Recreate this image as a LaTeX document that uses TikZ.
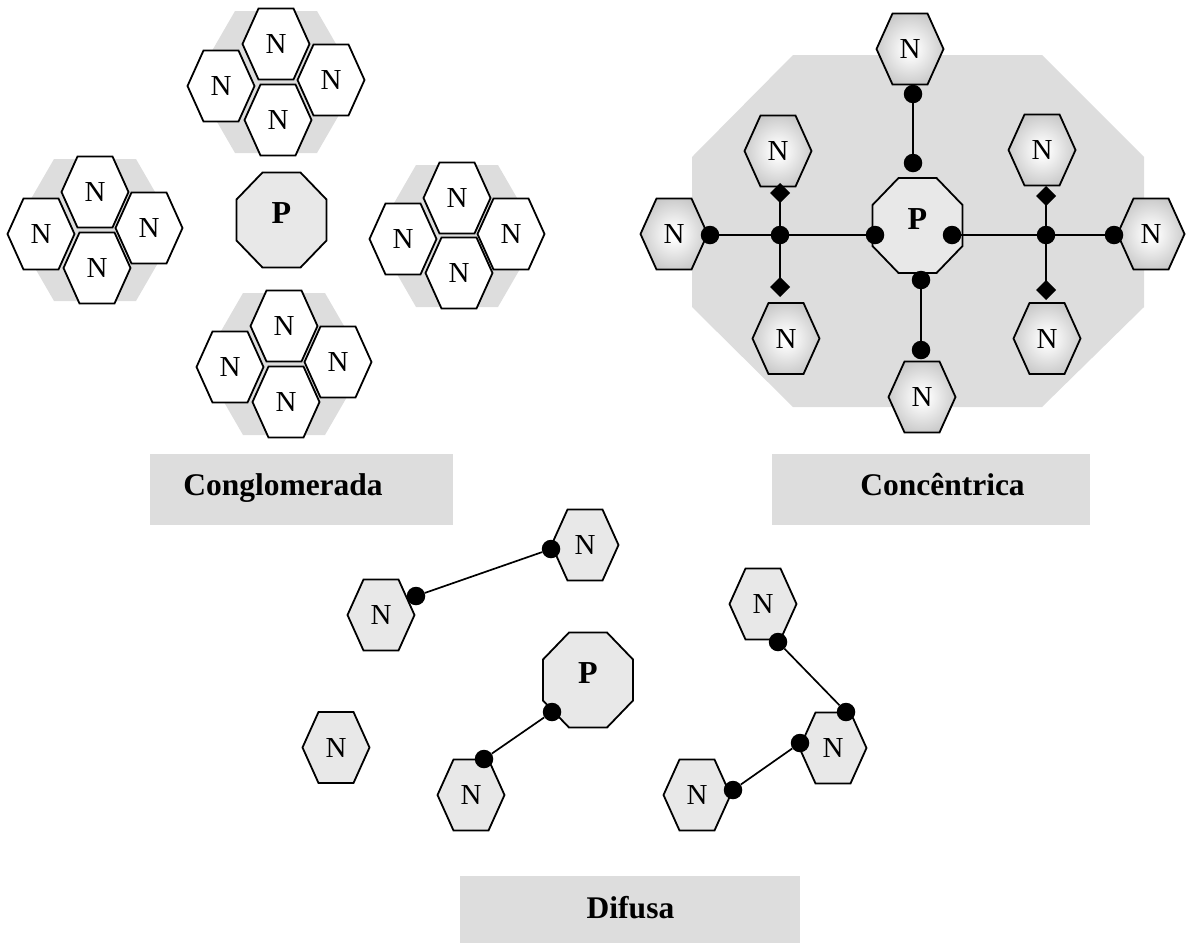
\documentclass[tikz,border=0pt]{standalone}
\usepackage{fontspec}
\setmainfont{Liberation Serif}
\usetikzlibrary{shapes.geometric}
\definecolor{bgg}{HTML}{DDDDDD}
\definecolor{lg}{HTML}{E8E8E8}
\pgfdeclareradialshading{hexshade}{\pgfpoint{0bp}{0bp}}{color(0bp)=(white); color(3bp)=(white); color(25bp)=(black!20); color(50bp)=(black!42)}
\tikzset{
  outl/.style={draw=black, line width=1.8pt, line join=miter},
  ntext/.style={font=\fontsize{29}{29}\selectfont, inner sep=0pt},
  ptext/.style={font=\bfseries\fontsize{32}{32}\selectfont, inner sep=0pt},
  pics/hexa/.style={code={
     \path[outl,#1] (-33.5,0) -- (-17.5,-35.5) -- (17.5,-35.5) -- (33.5,0) -- (17.5,35.5) -- (-17.5,35.5) -- cycle;
     \node[ntext] (-t) at (0,0) {N};
  }},
  pics/octa/.style={code={
     \path[outl,fill=lg] (-45,-20.5) -- (-19,-47.5) -- (19,-47.5) -- (45,-20.5) -- (45,20.5) -- (19,47.5) -- (-19,47.5) -- (-45,20.5) -- cycle;
     \node[ptext] (-t) at (0,-6.5) {P};
  }},
  pics/clusterbg/.style={code={
     \fill[bgg] (-82,0) -- (-41,-71) -- (41,-71) -- (82,0) -- (41,71) -- (-41,71) -- cycle;
  }},
  pics/diam/.style={code={
     \fill[black] (0,-10) -- (10,0) -- (0,10) -- (-10,0) -- cycle;
  }},
  bdot/.style={circle, fill=black, inner sep=0pt, minimum size=18.5pt},
  conn/.style={line width=1.7pt},
  labtext/.style={font=\bfseries\fontsize{31.5}{31.5}\selectfont, inner sep=0pt, anchor=base},
  whitehex/.style={fill=white},
  grayhex/.style={fill=lg},
  shadehex/.style={shade, shading=hexshade},
}
\begin{document}
\begin{tikzpicture}[x=1pt,y=-1pt]
\useasboundingbox (0,0) rectangle (1188,943);

% ---------- Conglomerada ----------
\pic at (276,82) {clusterbg};
\pic at (95,230) {clusterbg};
\pic at (457,236) {clusterbg};
\pic at (284,364) {clusterbg};

% top cluster
\pic (A1) at (276,44) {hexa=whitehex};
\pic (A2) at (278,120) {hexa=whitehex};
\pic (A3) at (221,86) {hexa=whitehex};
\pic (A4) at (331,80) {hexa=whitehex};
% left cluster
\pic (B1) at (95,192) {hexa=whitehex};
\pic (B2) at (97,268) {hexa=whitehex};
\pic (B3) at (41,234) {hexa=whitehex};
\pic (B4) at (149,228) {hexa=whitehex};
% right cluster
\pic (C1) at (457,198) {hexa=whitehex};
\pic (C2) at (459,273) {hexa=whitehex};
\pic (C3) at (403,239) {hexa=whitehex};
\pic (C4) at (511,234) {hexa=whitehex};
% bottom cluster
\pic (D1) at (284,326) {hexa=whitehex};
\pic (D2) at (286,402) {hexa=whitehex};
\pic (D3) at (230,367) {hexa=whitehex};
\pic (D4) at (338,362) {hexa=whitehex};

\pic (PA) at (281.5,220) {octa};

\fill[bgg] (150,454) rectangle (453,525);
\node[labtext] (labA) at (283,495) {Conglomerada};

% ---------- Concentrica ----------
\fill[bgg] (692,157) -- (793,55) -- (1042,55) -- (1144,157) -- (1144,307) -- (1042,407) -- (793,407) -- (692,307) -- cycle;

\pic (PB) at (917.5,225.5) {octa};

\pic (NT) at (910,49) {hexa=shadehex};
\pic (NB) at (922,397) {hexa=shadehex};
\pic (NL) at (674,234) {hexa=shadehex};
\pic (NR) at (1151,234) {hexa=shadehex};
\pic (NUL) at (778,151) {hexa=shadehex};
\pic (NLL) at (786,338.5) {hexa=shadehex};
\pic (NUR) at (1042,150) {hexa=shadehex};
\pic (NLR) at (1047,338.5) {hexa=shadehex};

\node[bdot] (t1) at (913,94) {};
\node[bdot] (t2) at (913,163) {};
\node[bdot] (pl) at (875,235) {};
\node[bdot] (pr) at (952,235) {};
\node[bdot] (pb) at (921,280) {};
\node[bdot] (b1) at (921,350) {};
\node[bdot] (l1) at (710,235) {};
\node[bdot] (xl) at (780,235) {};
\node[bdot] (r1) at (1114,235) {};
\node[bdot] (xr) at (1046,235) {};
\coordinate (ul) at (780,193);
\coordinate (ll) at (780,287);
\coordinate (ur) at (1046,196);
\coordinate (lr) at (1046,290);

\draw[conn] (t1) -- (t2);
\draw[conn] (pb) -- (b1);
\draw[conn] (l1) -- (xl) -- (pl);
\draw[conn] (pr) -- (xr) -- (r1);
\draw[conn] (ul) -- (xl) -- (ll);
\draw[conn] (ur) -- (xr) -- (lr);

\pic at (ul) {diam};
\pic at (ll) {diam};
\pic at (ur) {diam};
\pic at (lr) {diam};

\fill[bgg] (772,454) rectangle (1090,525);
\node[labtext] (labB) at (942.5,495) {Concêntrica};

% ---------- Difusa ----------
\pic (PC) at (588,680) {octa};
\pic (E1) at (585,545) {hexa=grayhex};
\pic (E2) at (381,615) {hexa=grayhex};
\pic (E3) at (336,747.5) {hexa=grayhex};
\pic (E4) at (471,795) {hexa=grayhex};
\pic (E5) at (763,604) {hexa=grayhex};
\pic (E6) at (833,748) {hexa=grayhex};
\pic (E7) at (697,795) {hexa=grayhex};

\node[bdot] (da) at (551,549) {};
\node[bdot] (db) at (416,596) {};
\node[bdot] (dc) at (552,712) {};
\node[bdot] (dd) at (484,759) {};
\node[bdot] (de) at (778,642) {};
\node[bdot] (df) at (846,712) {};
\node[bdot] (dg) at (800,743) {};
\node[bdot] (dh) at (733,790) {};

\draw[conn] (db) -- (da);
\draw[conn] (dc) -- (dd);
\draw[conn] (de) -- (df);
\draw[conn] (dg) -- (dh);

\fill[bgg] (460,876) rectangle (800,943);
\node[labtext] (labC) at (630.5,918) {Difusa};
\end{tikzpicture}
\end{document}
